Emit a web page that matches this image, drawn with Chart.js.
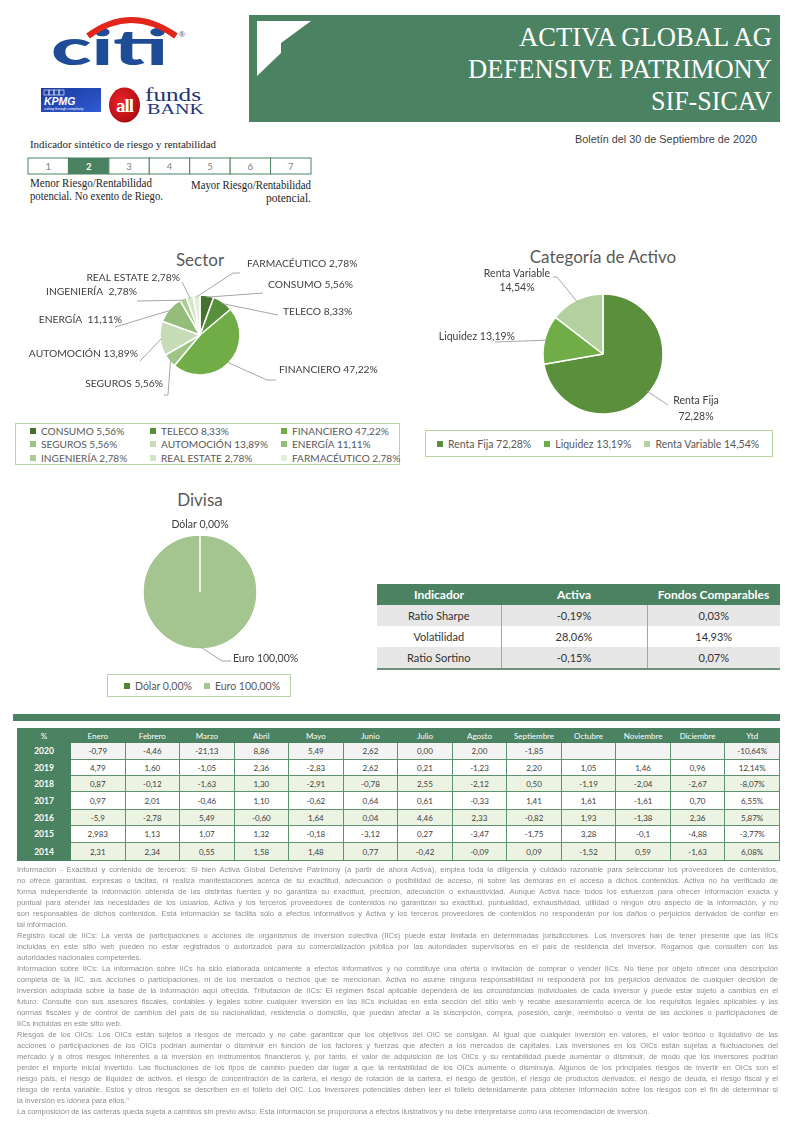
<!DOCTYPE html>
<html lang="es"><head><meta charset="utf-8"><title>Activa Global AG Defensive Patrimony SIF-SICAV</title>
<script src="https://cdn.jsdelivr.net/npm/chart.js@4.4.1/dist/chart.umd.min.js"></script>
<style>
html,body{margin:0;padding:0}
body{width:794px;height:1122px;position:relative;overflow:hidden;background:#fff;font-family:Lato,"Open Sans",sans-serif}
.abs{position:absolute}
.ttl{position:absolute;transform:translate(-50%,-50%);font-size:17px;color:#595959;white-space:nowrap}
.lg{position:absolute;border:1.5px solid #b5d4a1;box-sizing:border-box;font-size:10.5px;color:#595959}
.lgi{display:flex;align-items:center;white-space:nowrap;height:13.5px}
.mk{width:6px;height:6px;margin-right:5px;flex:none}
#rt{position:absolute;left:17px;top:728px;width:763px;border-collapse:collapse;table-layout:fixed;font-size:8px;color:#404040}
#rt td,#rt th{padding:0;text-align:center;vertical-align:middle;white-space:nowrap;overflow:hidden}
#rt th{background:#4b8262;color:#fff;font-weight:normal;border:1px solid #4b8262}
#rt td{border:1px solid #5e9271}
#rt td.yr{background:#4b8262;color:#fff;font-weight:bold;font-size:8.5px;border-color:#4b8262}
#it{position:absolute;left:377px;top:584px;border-collapse:collapse;table-layout:fixed;font-size:11px;color:#333;border-bottom:2px solid #6f907b}
#it th{background:#4b8262;color:#fff;font-weight:bold;font-size:12px;height:21px;padding:0}
#it td{height:21px;text-align:center;padding:0}
#it td+td{border-left:1.5px solid #8fb39b}
#disc{position:absolute;left:17px;top:864px;width:761px;will-change:transform}
.dl{height:11px;line-height:11px;white-space:nowrap;font-size:7.5px;font-family:"Liberation Sans",Arial,sans-serif;color:#8e8e8e}
</style></head><body>

<script>
// ---------------- DATA ----------------
const sectorLabels = ['CONSUMO','TELECO','FINANCIERO','SEGUROS','AUTOMOCIÓN','ENERGÍA ','INGENIERÍA ','REAL ESTATE','FARMACÉUTICO'];
const sectorValues = [5.56, 8.33, 47.22, 5.56, 13.89, 11.11, 2.78, 2.78, 2.78];
const assetLabels = ['Renta Fija','Liquidez','Renta Variable'];
const assetValues = [72.28, 13.19, 14.54];
const currencyLabels = ['Dólar','Euro'];
const currencyValues = [0.00, 100.00];
const indicatorNames = ['Ratio Sharpe','Volatilidad','Ratio Sortino'];
const activaValues = [-0.19, 28.06, -0.15];
const comparableValues = [0.03, 14.93, 0.07];
const monthLabels = ['Enero','Febrero','Marzo','Abril','Mayo','Junio','Julio','Agosto','Septiembre','Octubre','Noviembre','Diciembre','Ytd'];
const years = ['2020','2019','2018','2017','2016','2015','2014'];
const returns2020 = ['-0,79','-4,46','-21,13','8,86','5,49','2,62','0,00','2,00','-1,85','','','','-10,64%'];
const returns2019 = ['4,79','1,60','-1,05','2,36','-2,83','2,62','0,21','-1,23','2,20','1,05','1,46','0,96','12,14%'];
const returns2018 = ['0,87','-0,12','-1,63','1,30','-2,91','-0,78','2,55','-2,12','0,50','-1,19','-2,04','-2,67','-8,07%'];
const returns2017 = ['0,97','2,01','-0,46','1,10','-0,62','0,64','0,61','-0,33','1,41','1,61','-1,61','0,70','6,55%'];
const returns2016 = ['-5,9','-2,78','5,49','-0,60','1,64','0,04','4,46','2,33','-0,82','1,93','-1,38','2,36','5,87%'];
const returns2015 = ['2,983','1,13','1,07','1,32','-0,18','-3,12','0,27','-3,47','-1,75','3,28','-0,1','-4,88','-3,77%'];
const returns2014 = ['2,31','2,34','0,55','1,58','1,48','0,77','-0,42','-0,09','0,09','-1,52','0,59','-1,63','6,08%'];
const riskScale = [1,2,3,4,5,6,7];
const riskLevel = 2;
</script>

<!-- HEADER -->
<svg class="abs" style="left:0;top:0" width="794" height="210" id="hdr">
  <defs>
    <linearGradient id="kg" x1="0" x2="1" y1="0" y2="1"><stop offset="0" stop-color="#1b3a9e"/><stop offset="1" stop-color="#2f5ad2"/></linearGradient>
    <radialGradient id="ag" cx="0.4" cy="0.4" r="0.7"><stop offset="0" stop-color="#e8242a"/><stop offset="0.8" stop-color="#b80f16"/><stop offset="1" stop-color="#7a0a0e"/></radialGradient>
  </defs>
  <text x="51" y="65" font-family="Lato" font-weight="900" font-size="50" fill="#1f4c96" textLength="117" lengthAdjust="spacingAndGlyphs">citi</text>
  <path d="M88 36 Q131 4 176 36" stroke="#e3261b" stroke-width="6" fill="none"/>
  <text x="179" y="37" font-family="Liberation Sans" font-size="8" fill="#1f4c96">®</text>
  <rect x="41" y="88" width="60" height="24" fill="url(#kg)"/>
  <g stroke="#fff" stroke-width="0.6" fill="none"><rect x="44" y="90" width="5" height="5"/><rect x="49" y="90" width="5" height="5"/><rect x="54" y="90" width="5" height="5"/><rect x="59" y="90" width="5" height="5"/></g>
  <text x="44" y="104.5" font-family="Liberation Sans" font-weight="bold" font-style="italic" font-size="10.5" fill="#fff">KPMG</text>
  <text x="44" y="109.8" font-family="Liberation Sans" font-size="3.4" fill="#fff">cutting through complexity</text>
  <ellipse cx="124.5" cy="105" rx="15.5" ry="17.5" fill="url(#ag)"/>
  <text x="124.5" y="112" text-anchor="middle" font-family="Liberation Serif" font-weight="bold" font-size="19" fill="#fff" letter-spacing="-1">all</text>
  <text x="145" y="101" font-family="Liberation Serif" font-size="18" fill="#23337a" textLength="56" lengthAdjust="spacingAndGlyphs">funds</text>
  <text x="147" y="113.5" font-family="Liberation Serif" font-size="15" fill="#23337a" textLength="57" lengthAdjust="spacingAndGlyphs">BANK</text>

  <rect x="249" y="15" width="531" height="107" fill="#4b8262"/>
  <polygon points="257,21 311,21 281,43 281,53 257,76" fill="#fff"/>
  <text x="519" y="46" font-family="Liberation Serif" font-size="27" fill="#fff" textLength="253" lengthAdjust="spacingAndGlyphs">ACTIVA GLOBAL AG</text>
  <text x="468" y="78" font-family="Liberation Serif" font-size="27" fill="#fff" textLength="304" lengthAdjust="spacingAndGlyphs">DEFENSIVE PATRIMONY</text>
  <text x="651" y="110" font-family="Liberation Serif" font-size="27" fill="#fff" textLength="121" lengthAdjust="spacingAndGlyphs">SIF-SICAV</text>

  <text x="575" y="143" font-family="Liberation Sans" font-size="10.5" fill="#3f3f3f" textLength="182" lengthAdjust="spacingAndGlyphs">Boletín del 30 de Septiembre de 2020</text>

  <text x="30" y="148" font-family="Liberation Serif" font-size="11" fill="#1e1e1e" textLength="186" lengthAdjust="spacingAndGlyphs">Indicador sintético de riesgo y rentabilidad</text>
  <g id="risk"></g>
  <text x="30" y="187" font-family="Liberation Serif" font-size="11.5" fill="#1e1e1e" textLength="122" lengthAdjust="spacingAndGlyphs">Menor Riesgo/Rentabilidad</text>
  <text x="30" y="199.5" font-family="Liberation Serif" font-size="11.5" fill="#1e1e1e" textLength="133" lengthAdjust="spacingAndGlyphs">potencial. No exento de Riego.</text>
  <text x="191" y="189" font-family="Liberation Serif" font-size="11.5" fill="#1e1e1e" textLength="120" lengthAdjust="spacingAndGlyphs">Mayor Riesgo/Rentabilidad</text>
  <text x="266" y="202" font-family="Liberation Serif" font-size="11.5" fill="#1e1e1e" textLength="45" lengthAdjust="spacingAndGlyphs">potencial.</text>
</svg>

<!-- CHARTS -->
<div class="ttl" style="left:200px;top:259px">Sector</div>
<canvas id="cSector" class="abs" style="left:0;top:240px" width="420" height="180"></canvas>
<div id="lgSector" class="lg" style="left:15px;top:423px;width:385px;height:42px;padding:0 0 0 14px;display:grid;grid-template-columns:120px 131px 1fr;align-content:start;font-size:10.1px"></div>

<div class="ttl" style="left:603px;top:256px">Categoría de Activo</div>
<canvas id="cAsset" class="abs" style="left:420px;top:240px" width="374" height="185"></canvas>
<div id="lgAsset" class="lg" style="left:425px;top:430px;width:348px;height:27px;padding-left:11px;display:flex;align-items:center;gap:13px"></div>

<div class="ttl" style="left:200px;top:499px">Divisa</div>
<canvas id="cCur" class="abs" style="left:0;top:480px" width="420" height="190"></canvas>
<div id="lgCur" class="lg" style="left:107px;top:674px;width:184px;height:23px;padding-left:16px;display:flex;align-items:center;gap:12px"></div>

<table id="it"><colgroup><col style="width:124px"><col style="width:146px"><col style="width:133px"></colgroup><thead><tr><th>Indicador</th><th>Activa</th><th>Fondos Comparables</th></tr></thead><tbody id="itb"></tbody></table>

<div class="abs" style="left:13px;top:714px;width:767px;height:7px;background:#4b8262"></div>
<table id="rt"><colgroup id="rtc"></colgroup><thead><tr id="rth"></tr></thead><tbody id="rtb"></tbody></table>

<div id="disc"></div>

<script>
// risk scale boxes
(function(){
  let s='';
  riskScale.forEach((n,i)=>{
    const w=40.43, x=28+i*w, on=(n===riskLevel);
    s+=`<rect x="${x}" y="158" width="${w}" height="16" fill="${on?'#4b8262':'#fff'}" stroke="#4b8262" stroke-width="1"/>`+
       `<text x="${x+w/2}" y="169.5" text-anchor="middle" font-family="Lato" font-size="9.5" font-weight="${on?'bold':'normal'}" fill="${on?'#fff':'#7f7f7f'}">${n}</text>`;
  });
  document.getElementById('risk').innerHTML=s;
})();

const pct = v => v.toFixed(2).replace('.',',') + '%';

// Outside labels with leader lines (offsets relative to pie centre)
const outLabels = {
  id:'outLabels',
  afterDatasetsDraw(chart, args, opts){
    const ctx = chart.ctx, meta = chart.getDatasetMeta(0);
    const ds = chart.data.datasets[0];
    ctx.save();
    ctx.font = opts.font || '10.5px Lato';
    ctx.textBaseline = 'middle';
    meta.data.forEach((arc,i)=>{
      const L = opts.items[i]; if(!L) return;
      const p = arc.getProps(['x','y','startAngle','endAngle','outerRadius'], true);
      const mid = (p.startAngle+p.endAngle)/2;
      if (L.p){
        ctx.strokeStyle = '#a6a6a6'; ctx.lineWidth = 1;
        ctx.beginPath();
        ctx.moveTo(p.x+Math.cos(mid)*p.outerRadius*0.96, p.y+Math.sin(mid)*p.outerRadius*0.96);
        L.p.forEach(q=>ctx.lineTo(p.x+q[0], p.y+q[1]));
        ctx.stroke();
      }
      const name = chart.data.labels[i], val = pct(ds.data[i]);
      const lines = L.split ? [name, val] : [name+' '+val];
      ctx.fillStyle = '#404040';
      ctx.textAlign = L.a;
      lines.forEach((t,k)=>ctx.fillText(t, p.x+L.t[0], p.y+L.t[1]+k*(L.lh||15)));
    });
    ctx.restore();
  }
};

function pie(id, labels, values, colors, items, cx, cy, r, w, h, font){
  const bw = 1.5, half = r + bw/2;
  return new Chart(document.getElementById(id), {
    type:'pie',
    data:{labels, datasets:[{data:values, backgroundColor:colors, borderColor:'#fff', borderWidth:bw, hoverOffset:0, hoverBorderWidth:bw}]},
    options:{responsive:false, animation:false, events:[],
      layout:{padding:{left:cx-half, right:w-cx-half, top:cy-half, bottom:h-cy-half}},
      plugins:{legend:{display:false}, tooltip:{enabled:false}, outLabels:{items, font}}},
    plugins:[outLabels]
  });
}

function legend(elId, labels, values, colors){
  const el = document.getElementById(elId);
  labels.forEach((l,i)=>{
    const d = document.createElement('div'); d.className='lgi';
    d.innerHTML = `<span class="mk" style="background:${colors[i]}"></span><span>${l} ${pct(values[i])}</span>`;
    el.appendChild(d);
  });
}

const sectorColors = ['#44722d','#56903a','#70ad47','#9dc485','#c6dbb6','#94bd79','#a9cd92','#d3e5c6','#e2eed8'];
const sectorLabelLayout = [
  {t:[68,-50], a:'left',  p:[[63,-42]]},
  {t:[83,-23], a:'left',  p:[[78,-20]]},
  {t:[79,35],  a:'left',  p:[[67,45],[76,45]]},
  {t:[-37,49], a:'right', p:[[-32,60],[-36,60]]},
  {t:[-62,19], a:'right', p:[[-60,26]]},
  {t:[-78,-15],a:'right', p:[[-85,-8]]},
  {t:[-63,-43],a:'right', p:[[-63,-34]]},
  {t:[-20,-57],a:'right', p:[[-18,-53]]},
  {t:[47,-71], a:'left',  p:[[33,-62],[40,-62]]}
];
pie('cSector', sectorLabels, sectorValues, sectorColors, sectorLabelLayout, 200, 95, 40, 420, 180, '10.3px Lato');
legend('lgSector', sectorLabels, sectorValues, sectorColors);

const assetColors = ['#5a8f3b','#70ad47','#b3d19f'];
const assetLabelLayout = [
  {t:[93,47],   a:'center', split:true, lh:16, p:[[65,51]]},
  {t:[-88,-17], a:'right',  p:[[-108,-12]]},
  {t:[-86,-80], a:'center', split:true, lh:14, p:[[-46,-77],[-50,-77]]}
];
pie('cAsset', assetLabels, assetValues, assetColors, assetLabelLayout, 183, 114, 60, 374, 185, '10.5px Lato');
legend('lgAsset', assetLabels, assetValues, assetColors);

const curColors = ['#548235','#a4c58f'];
const curLabelLayout = [
  {t:[0,-67], a:'center'},
  {t:[33,67], a:'left', p:[[22,69],[31,69]]}
];
pie('cCur', currencyLabels, currencyValues, curColors, curLabelLayout, 200, 112, 57, 420, 190, '10.5px Lato');
legend('lgCur', currencyLabels, currencyValues, curColors);

// indicator table
(function(){
  const tb = document.getElementById('itb');
  indicatorNames.forEach((n,i)=>{
    const tr = document.createElement('tr');
    tr.style.background = (i%2===0) ? '#e7e7e7' : '#ffffff';
    tr.innerHTML = `<td>${n}</td><td>${pct(activaValues[i])}</td><td>${pct(comparableValues[i])}</td>`;
    tb.appendChild(tr);
  });
})();

// returns table
(function(){
  const rows = [returns2020, returns2019, returns2018, returns2017, returns2016, returns2015, returns2014];
  const rowBg = ['#f3f3f3','#ffffff','#edf3e3','#ffffff','#edf3e3','#ffffff','#edf3e3'];
  const rowH = [17,16,16,18,16,17,18];
  const cg = document.getElementById('rtc');
  cg.innerHTML = '<col style="width:53px">' + monthLabels.map(()=>'<col>').join('');
  const th = document.getElementById('rth');
  th.style.height = '14px';
  th.innerHTML = '<th>%</th>' + monthLabels.map(m=>`<th>${m}</th>`).join('');
  const tb = document.getElementById('rtb');
  rows.forEach((r,i)=>{
    const tr = document.createElement('tr');
    tr.style.height = rowH[i]+'px';
    tr.innerHTML = `<td class="yr">${years[i]}</td>` + r.map(v=>`<td style="background:${rowBg[i]}">${v}</td>`).join('');
    tb.appendChild(tr);
  });
})();

// disclaimer
const disclaimer = [
 ['Información - Exactitud y contenido de terceros: Si bien Activa Global Defensive Patrimony (a partir de ahora Activa), emplea toda la diligencia y cuidado razonable para seleccionar los proveedores de contenidos,',
  'no ofrece garantías, expresas o tácitas, ni realiza manifestaciones acerca de su exactitud, adecuación o posibilidad de acceso, ni sobre las demoras en el acceso a dichos contenidos. Activa no ha verificado de',
  'forma independiente la información obtenida de las distintas fuentes y no garantiza su exactitud, precisión, adecuación o exhaustividad. Aunque Activa hace todos los esfuerzos para ofrecer información exacta y',
  'puntual para atender las necesidades de los usuarios, Activa y los terceros proveedores de contenidos no garantizan su exactitud, puntualidad, exhaustividad, utilidad o ningún otro aspecto de la información, y no',
  'son responsables de dichos contenidos. Esta información se facilita sólo a efectos informativos y Activa y los terceros proveedores de contenidos no responderán por los daños o perjuicios derivados de confiar en',
  'tal información.'],
 ['Registro local de IICs: La venta de participaciones o acciones de organismos de inversión colectiva (IICs) puede estar limitada en determinadas jurisdicciones. Los inversores han de tener presente que las IICs',
  'incluidas en este sitio web pueden no estar registrados o autorizados para su comercialización pública por las autoridades supervisoras en el país de residencia del inversor. Rogamos que consulten con las',
  'autoridades nacionales competentes.'],
 ['Información sobre IICs: La información sobre IICs ha sido elaborada únicamente a efectos informativos y no constituye una oferta o invitación de comprar o vender IICs. No tiene por objeto ofrecer una descripción',
  'completa de la IIC, sus acciones o participaciones, ni de los mercados o hechos que se mencionan. Activa no asume ninguna responsabilidad ni responderá por los perjuicios derivados de cualquier decisión de',
  'inversión adoptada sobre la base de la información aquí ofrecida. Tributación de IICs: El régimen fiscal aplicable dependerá de las circunstancias individuales de cada inversor y puede estar sujeto a cambios en el',
  'futuro. Consulte con sus asesores fiscales, contables y legales sobre cualquier inversión en las IICs incluidas en esta sección del sitio web y recabe asesoramiento acerca de los requisitos legales aplicables y las',
  'normas fiscales y de control de cambios del país de su nacionalidad, residencia o domicilio, que puedan afectar a la suscripción, compra, posesión, canje, reembolso o venta de las acciones o participaciones de',
  'IICs incluidas en este sitio web.'],
 ['Riesgos de los OICs: Los OICs están sujetos a riesgos de mercado y no cabe garantizar que los objetivos del OIC se consigan. Al igual que cualquier inversión en valores, el valor teórico o liquidativo de las',
  'acciones o participaciones de los OICs podrían aumentar o disminuir en función de los factores y fuerzas que afecten a los mercados de capitales. Las inversiones en los OICs están sujetas a fluctuaciones del',
  'mercado y a otros riesgos inherentes a la inversión en instrumentos financieros y, por tanto, el valor de adquisición de los OICs y su rentabilidad puede aumentar o disminuir, de modo que los inversores podrían',
  'perder el importe inicial invertido. Las fluctuaciones de los tipos de cambio pueden dar lugar a que la rentabilidad de los OICs aumente o disminuya. Algunos de los principales riesgos de invertir en OICs son el',
  'riesgo país, el riesgo de iliquidez de activos, el riesgo de concentración de la cartera, el riesgo de rotación de la cartera, el riesgo de gestión, el riesgo de productos derivados, el riesgo de deuda, el riesgo fiscal y el',
  'riesgo de renta variable. Estos y otros riesgos se describen en el folleto del OIC. Los inversores potenciales deben leer el folleto detenidamente para obtener información sobre los riesgos con el fin de determinar si',
  'la inversión es idónea para ellos."'],
 ['La composición de las carteras queda sujeta a cambios sin previo aviso. Esta información se proporciona a efectos ilustrativos y no debe interpretarse como una recomendación de inversión.']
];
(function(){
  const disc = document.getElementById('disc');
  disclaimer.forEach(par=>par.forEach((line,j)=>{
    const d = document.createElement('div'); d.className='dl';
    const s = document.createElement('span'); s.textContent = line;
    d.appendChild(s); disc.appendChild(d);
    if (j < par.length-1){
      const w = s.getBoundingClientRect().width;
      const n = (line.match(/ /g)||[]).length;
      if (n) s.style.wordSpacing = ((761 - w)/n) + 'px';
    }
  }));
})();
</script>
</body></html>
